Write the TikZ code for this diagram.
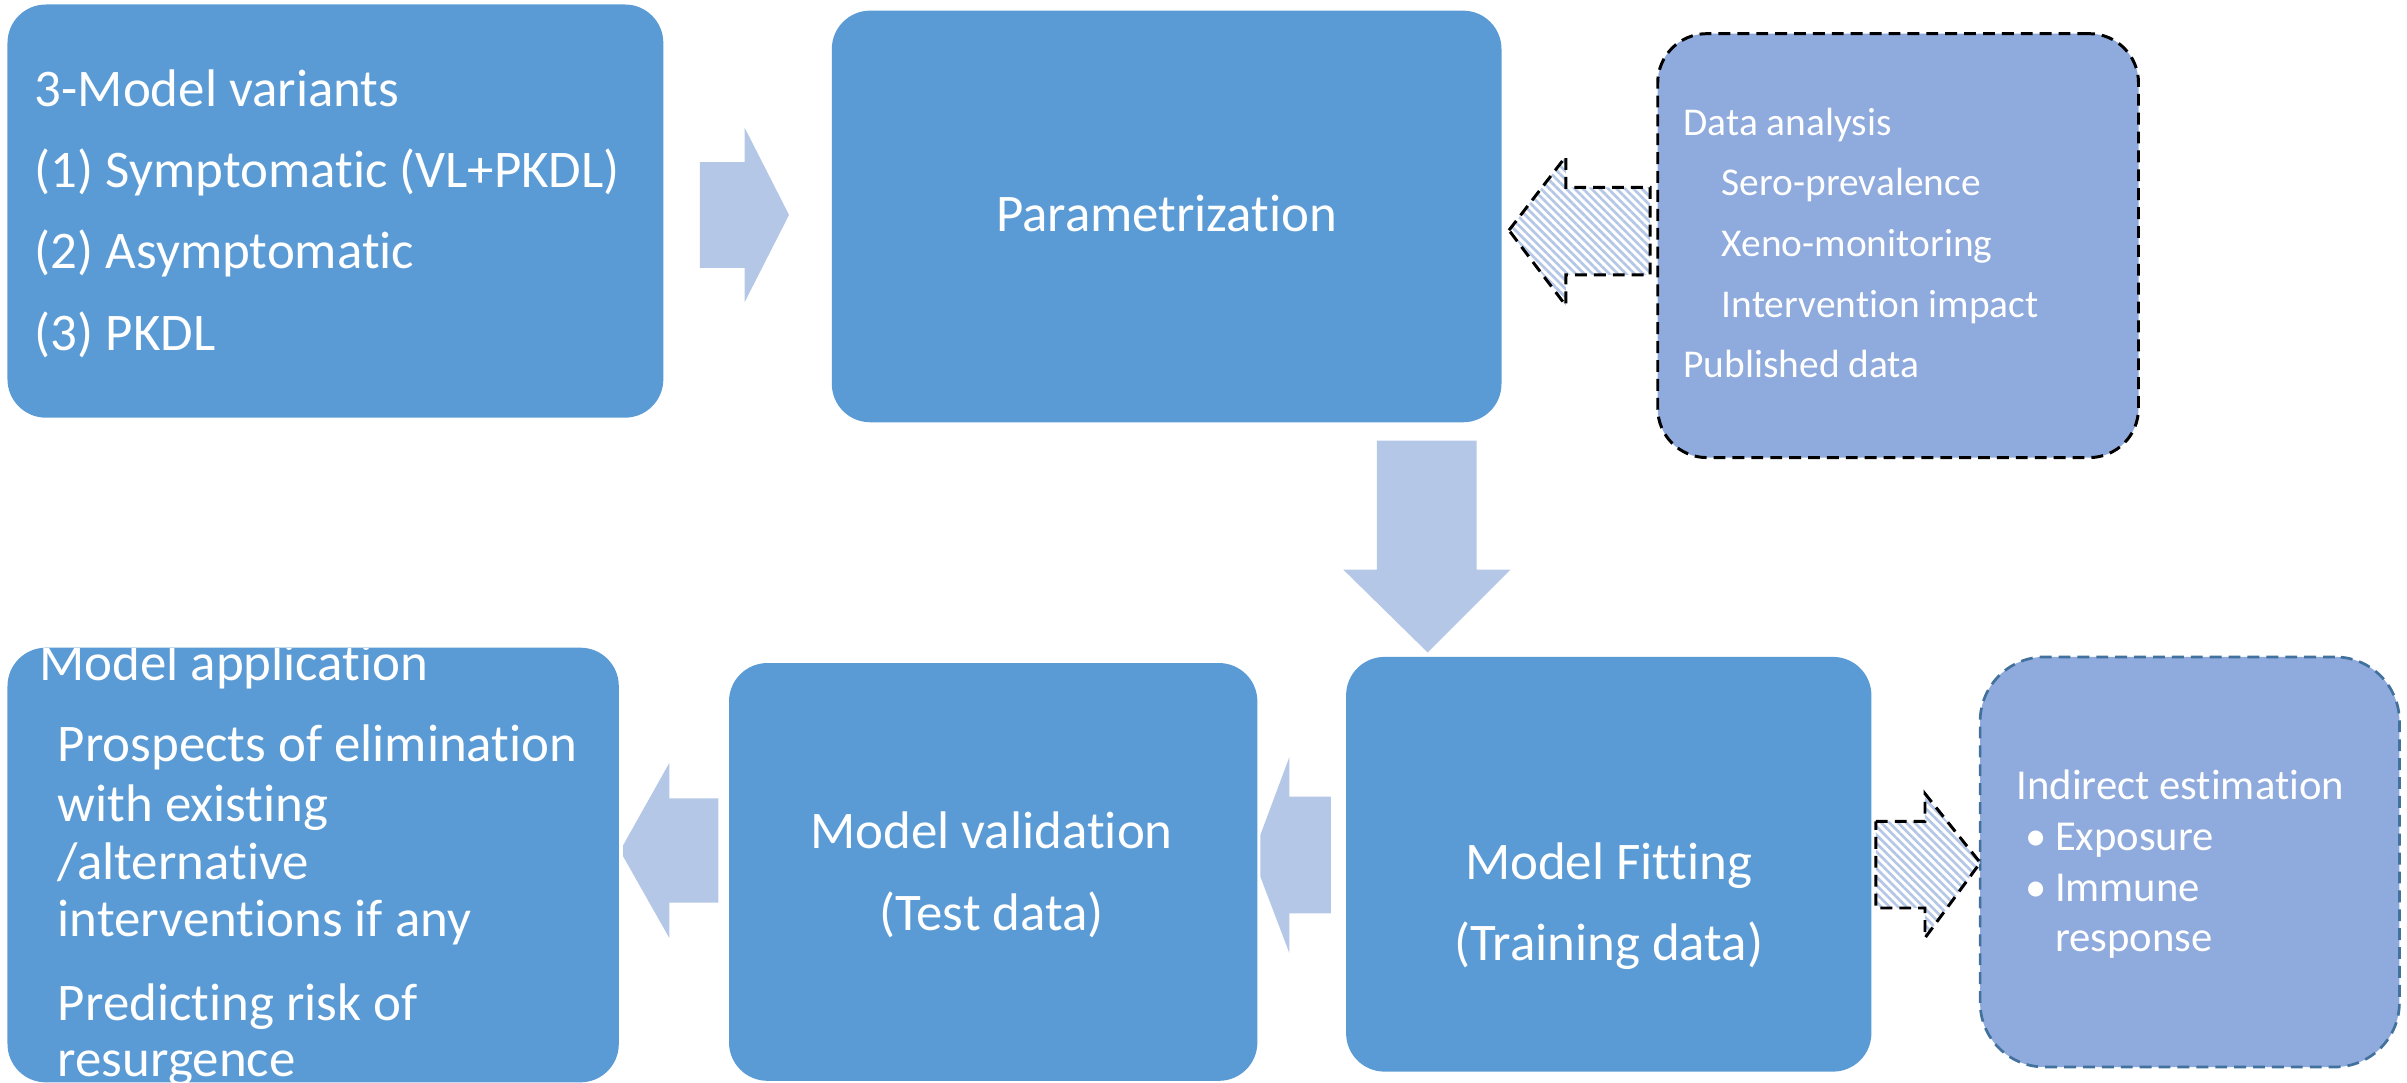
\documentclass[tikz,border=0pt]{standalone}
\usepackage{fontspec}
\setmainfont{Carlito}[Ligatures={NoCommon,NoRare,NoContextual}]
\usetikzlibrary{patterns.meta}
\definecolor{boxblue}{HTML}{5B9BD5}
\definecolor{dashfill}{HTML}{8FAADC}
\definecolor{arrowfill}{HTML}{B4C7E7}
\definecolor{edgeblue}{HTML}{41719C}
\begin{document}
\begin{tikzpicture}[x=0.01cm,y=-0.01cm,
  mainbox/.style={draw=none, fill=boxblue, rounded corners=0.25cm, inner sep=0pt},
  databox/.style={fill=dashfill, draw=black, line width=0.55pt, dash pattern=on 2.2pt off 1.3pt, rounded corners=0.32cm, inner sep=0pt},
  estbox/.style={fill=dashfill, draw=edgeblue, line width=0.5pt, dash pattern=on 2.2pt off 1.3pt, rounded corners=0.42cm, inner sep=0pt},
  blockarrow/.style={fill=arrowfill, draw=none},
  hatcharrow/.style={preaction={fill=white}, pattern={Lines[angle=-45,distance=1.1pt,line width=0.5pt]}, pattern color=arrowfill, draw=black, line width=0.55pt, dash pattern=on 2.2pt off 1.3pt},
  bigtxt/.style={text=white, inner sep=0pt, font=\fontsize{9.8}{11}\selectfont},
  datatxt/.style={text=white, inner sep=0pt, font=\fontsize{7.3}{9}\selectfont},
  esttxt/.style={text=white, inner sep=0pt, font=\fontsize{7.9}{9}\selectfont}
]
\useasboundingbox (0,0) rectangle (1568,705.5);

% boxes
\node[mainbox, minimum width=4.27cm, minimum height=2.69cm] (variants) at (218.5,137.5) {};
\node[mainbox, minimum width=4.36cm, minimum height=2.68cm] (param) at (760,141) {};
\node[databox, minimum width=3.13cm, minimum height=2.76cm] (data) at (1236.5,160) {};
\node[mainbox, minimum width=3.42cm, minimum height=2.70cm] (fit) at (1048,563) {};
\node[mainbox, minimum width=3.44cm, minimum height=2.72cm] (valid) at (647,568) {};
\node[mainbox, minimum width=3.98cm, minimum height=2.83cm] (appl) at (204,563.5) {};
\node[estbox, minimum width=2.73cm, minimum height=2.67cm] (est) at (1426.5,561.5) {};

% block arrows
\path[blockarrow] (456,105.6) -- (485,105.6) -- (485,83) -- (514,140) -- (485,197) -- (485,174.5) -- (456,174.5) -- cycle;
\path[blockarrow] (897,287) -- (962,287) -- (962,371) -- (984,371) -- (930,425) -- (875,371) -- (897,371) -- cycle;
\path[blockarrow] (867,519) -- (840,519) -- (840,493) -- (821,544) -- (821,571) -- (840,621) -- (840,595) -- (867,595) -- cycle;
\path[blockarrow] (468,520) -- (436,520) -- (436,497) -- (406,550.5) -- (406,558) -- (436,611) -- (436,588) -- (468,588) -- cycle;

% hatched arrows
\path[hatcharrow] (983,150) -- (1020,102) -- (1020,122) -- (1075,122) -- (1075,179) -- (1020,179) -- (1020,199) -- cycle;
\path[hatcharrow] (1222,535) -- (1254,535) -- (1254,517) -- (1290,562) -- (1254,611) -- (1254,591.5) -- (1222,591.5) -- cycle;

% texts box 1
\node[bigtxt, anchor=base west] (v1) at (22,69.5) {3-Model variants};
\node[bigtxt, anchor=base west] (v2) at (22,122) {(1) Symptomatic (VL+PKDL)};
\node[bigtxt, anchor=base west] (v3) at (22,175) {(2) Asymptomatic};
\node[bigtxt, anchor=base west] (v4) at (22,228) {(3) PKDL};

% box 2
\node[bigtxt, anchor=base] (p1) at (760,151) {Parametrization};

% box 3
\node[datatxt, anchor=base west] (d1) at (1096,88) {Data analysis};
\node[datatxt, anchor=base west] (d2) at (1121,127.5) {Sero-prevalence};
\node[datatxt, anchor=base west] (d3) at (1121,167) {Xeno-monitoring};
\node[datatxt, anchor=base west] (d4) at (1121,207) {Intervention impact};
\node[datatxt, anchor=base west] (d5) at (1096,246) {Published data};

% box 4
\node[bigtxt, anchor=base] (f1) at (1048,573) {Model Fitting};
\node[bigtxt, anchor=base] (f2) at (1048,626) {(Training data)};

% box 5
\node[bigtxt, anchor=base] (m1) at (646,553) {Model validation};
\node[bigtxt, anchor=base] (m2) at (646,606) {(Test data)};

% box 6 (text clipped by box)
\begin{scope}
\clip[rounded corners=0.25cm] (5,422) rectangle (403,705);
\node[bigtxt, anchor=base west] (a1) at (25,443.5) {Model application};
\node[bigtxt, anchor=base west] (a2) at (37,496) {Prospects of elimination};
\node[bigtxt, anchor=base west] (a3) at (37,535) {with existing};
\node[bigtxt, anchor=base west] (a4) at (37,573) {/alternative};
\node[bigtxt, anchor=base west] (a5) at (37,610) {interventions if any};
\node[bigtxt, anchor=base west] (a6) at (37,664.5) {Predicting risk of};
\node[bigtxt, anchor=base west] (a7) at (37,701.5) {resurgence};
\end{scope}

% box 7
\node[esttxt, anchor=base west] (e1) at (1313,520.7) {Indirect estimation};
\node[esttxt, anchor=base west] (e2b) at (1319,553.8) {•};
\node[esttxt, anchor=base west] (e2) at (1338,553.8) {Exposure};
\node[esttxt, anchor=base west] (e3b) at (1319,587) {•};
\node[esttxt, anchor=base west] (e3) at (1338,587) {Immune};
\node[esttxt, anchor=base west] (e4) at (1338,620) {response};
\end{tikzpicture}
\end{document}
